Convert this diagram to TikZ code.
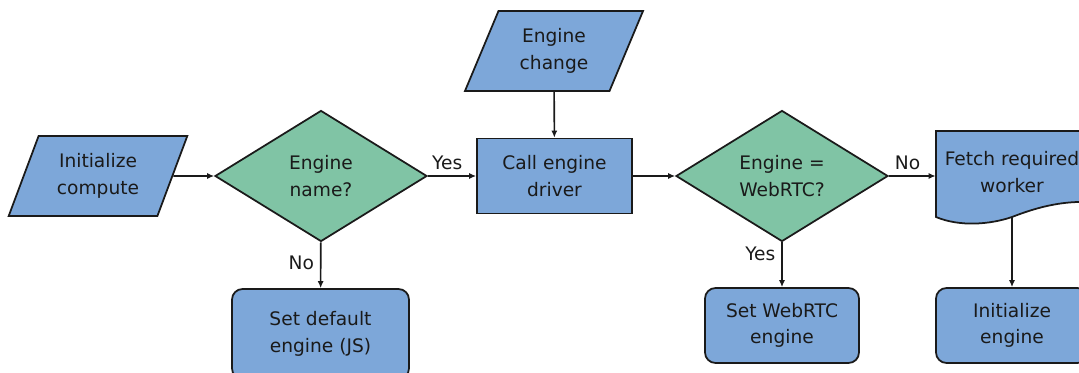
\documentclass[tikz,border=0pt]{standalone}
\usepackage{fontspec}
\setmainfont{DejaVu Sans}
\usepackage{xcolor}
\usetikzlibrary{shapes.geometric,arrows.meta,positioning,calc}
\definecolor{flowblue}{HTML}{7DA7D9}
\definecolor{flowgreen}{HTML}{80C4A5}
\definecolor{flowline}{HTML}{1A1A1A}

\tikzset{
  base/.style={draw=flowline,line width=1pt,text=flowline,align=center,
    font=\fontsize{10.6}{15}\selectfont},
  iobox/.style={base,fill=flowblue,trapezium,trapezium left angle=65,
    trapezium right angle=115,trapezium stretches=true,
    minimum width=3.58cm,minimum height=1.6cm,inner sep=0pt},
  procbox/.style={base,fill=flowblue,rectangle,minimum width=3.1cm,minimum height=1.5cm},
  endbox/.style={base,fill=flowblue,rectangle,rounded corners=6pt,minimum height=1.5cm},
  decbox/.style={base,fill=flowgreen,diamond,minimum width=4.24cm,
    minimum height=2.62cm,inner sep=0pt},
  flow/.style={draw=flowline,line width=0.9pt,-{Latex[length=4pt,width=3.5pt]}},
  lbl/.style={text=flowline,font=\fontsize{10.6}{15}\selectfont}
}

\begin{document}
\begin{tikzpicture}
  \useasboundingbox (0,0) rectangle (21.58,7.44);
  \clip (0,0) rectangle (21.58,7.44);
  % inputs
  \node[iobox] (init) at (1.96,3.92) {Initialize\\compute};
  \node[iobox] (change) at (11.08,6.42) {Engine\\change};
  % decisions and calls
  \node[decbox] (name) at (6.42,3.92) {Engine\\name?};
  \node[procbox] (call) at (11.09,3.92) {Call engine\\driver};
  \node[decbox] (webrtc) at (15.64,3.92) {Engine =\\WebRTC?};
  % worker document
  \fill[flowblue] (18.72,3.10) -- (18.72,4.82) -- (21.76,4.82) -- (21.76,3.40)
    .. controls (21.2,3.42) and (20.7,3.28) .. (20.24,3.1)
    .. controls (19.8,2.95) and (19.2,2.9) .. (18.72,3.10) -- cycle;
  \draw[flowline,line width=1pt] (18.72,3.10) -- (18.72,4.82) -- (21.76,4.82) -- (21.76,3.40)
    .. controls (21.2,3.42) and (20.7,3.28) .. (20.24,3.1)
    .. controls (19.8,2.95) and (19.2,2.9) .. (18.72,3.10) -- cycle;
  \node[lbl,align=center,minimum width=3.04cm,inner sep=0pt] (fetch) at (20.24,4.0) {Fetch required\\worker};
  \coordinate (fetchout) at (20.24,3.1);
  % end states
  \node[endbox,minimum width=3.54cm,minimum height=1.8cm] (dflt) at (6.41,0.76) {Set default\\engine (JS)};
  \node[endbox,minimum width=3.08cm] (setweb) at (15.64,0.93) {Set WebRTC\\engine};
  \node[endbox,minimum width=3.04cm] (initeng) at (20.24,0.93) {Initialize\\engine};
  % connectors
  \draw[flow] (init) -- (name);
  \draw[flow] (name) -- node[lbl,above,pos=0.4] {Yes} (call);
  \draw[flow] (name) -- node[lbl,left,pos=0.45] {No} (dflt);
  \draw[flow] (change) -- (call);
  \draw[flow] (call) -- (webrtc);
  \draw[flow] (webrtc.east) -- node[lbl,above,pos=0.4] {No} (webrtc.east -| fetch.west);
  \draw[flow] (webrtc) -- node[lbl,left,pos=0.25] {Yes} (setweb);
  \draw[flow] (fetchout) -- (initeng);
\end{tikzpicture}
\end{document}
